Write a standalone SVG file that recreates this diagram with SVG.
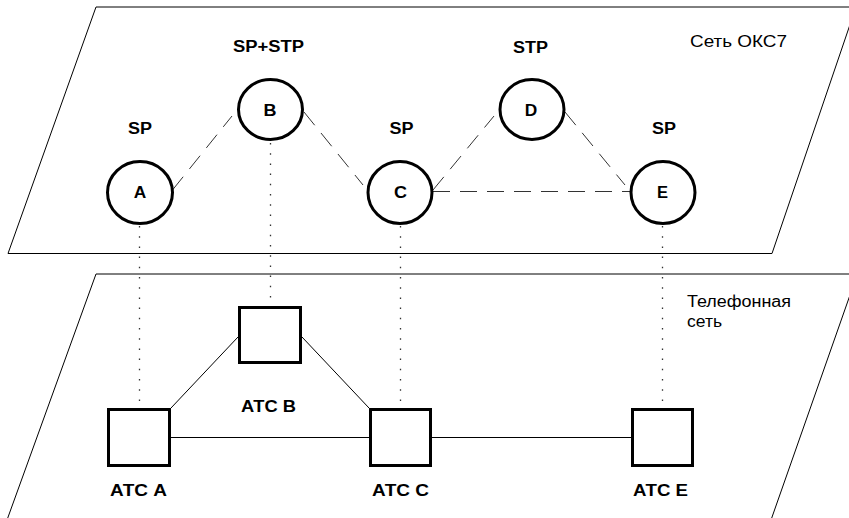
<svg xmlns="http://www.w3.org/2000/svg" width="849" height="518" viewBox="0 0 849 518">
<style>
.plane{fill:none;stroke:#000;stroke-width:1}
.node{fill:#fff;stroke:#000;stroke-width:3}
.sig{stroke:#333;stroke-width:1;stroke-dasharray:17 10;fill:none}
.dot{stroke:#333;stroke-width:1.3;stroke-dasharray:1.5 8.7;fill:none}
.trunk{stroke:#000;stroke-width:1;fill:none}
.b{font-family:"Liberation Sans",Arial,sans-serif;font-weight:bold;font-size:16px;fill:#000;text-anchor:middle}
.r{font-family:"Liberation Sans",Arial,sans-serif;font-size:16px;fill:#000}
</style>
<rect width="849" height="518" fill="#fff"/>
<g id="planes">
<polygon class="plane" points="96,7 856,7 772,253.5 8,253.5"/>
<polyline class="plane" points="7,520 96,274 857.4,274 771,520"/>
<text class="r" x="690" y="46.5" textLength="97" lengthAdjust="spacingAndGlyphs">Сеть ОКС7</text>
<text class="r" x="687" y="307" textLength="104" lengthAdjust="spacingAndGlyphs">Телефонная</text>
<text class="r" x="687" y="326.5" textLength="35" lengthAdjust="spacingAndGlyphs">сеть</text>
</g>
<g id="connectors">
<line class="sig" x1="172.5" y1="190" x2="232" y2="116"/>
<line class="sig" x1="304" y1="112" x2="363" y2="185"/>
<line class="sig" x1="433" y1="190" x2="494" y2="116"/>
<line class="sig" x1="433" y1="191.5" x2="630" y2="191.5"/>
<line class="sig" x1="565" y1="112" x2="625" y2="185"/>
<line class="dot" x1="139.5" y1="226" x2="139.5" y2="407"/>
<line class="dot" x1="270.5" y1="143" x2="270.5" y2="305"/>
<line class="dot" x1="400.5" y1="226" x2="400.5" y2="407"/>
<line class="dot" x1="662.5" y1="226" x2="662.5" y2="407"/>
<line class="trunk" x1="171" y1="408" x2="238" y2="337"/>
<line class="trunk" x1="302" y1="337" x2="369" y2="408"/>
<line class="trunk" x1="171" y1="437.5" x2="369" y2="437.5"/>
<line class="trunk" x1="432" y1="437.5" x2="631" y2="437.5"/>
</g>
<g id="spA">
<ellipse class="node" cx="140" cy="192.5" rx="32.5" ry="31"/>
<text class="b" x="140" y="197.5" textLength="12.5" lengthAdjust="spacingAndGlyphs">A</text>
<text class="b" x="140" y="133.5" textLength="24" lengthAdjust="spacingAndGlyphs">SP</text>
</g>
<g id="spB">
<ellipse class="node" cx="270.5" cy="109.5" rx="32" ry="30"/>
<text class="b" x="270" y="116" textLength="13" lengthAdjust="spacingAndGlyphs">B</text>
<text class="b" x="268.5" y="52" textLength="71" lengthAdjust="spacingAndGlyphs">SP+STP</text>
</g>
<g id="spC">
<ellipse class="node" cx="400" cy="192.5" rx="32" ry="31"/>
<text class="b" x="400.5" y="197.5" textLength="13" lengthAdjust="spacingAndGlyphs">C</text>
<text class="b" x="401.5" y="133.5" textLength="24" lengthAdjust="spacingAndGlyphs">SP</text>
</g>
<g id="stpD">
<ellipse class="node" cx="532" cy="109.5" rx="32" ry="30"/>
<text class="b" x="531" y="116" textLength="12.5" lengthAdjust="spacingAndGlyphs">D</text>
<text class="b" x="530.5" y="53" textLength="35" lengthAdjust="spacingAndGlyphs">STP</text>
</g>
<g id="spE">
<ellipse class="node" cx="663" cy="192.5" rx="32" ry="31"/>
<text class="b" x="662.5" y="197.5" textLength="11" lengthAdjust="spacingAndGlyphs">E</text>
<text class="b" x="664" y="133.5" textLength="24" lengthAdjust="spacingAndGlyphs">SP</text>
</g>
<g id="atcA">
<rect class="node" x="108.5" y="409.5" width="61" height="56"/>
<text class="b" x="138.5" y="496" textLength="57" lengthAdjust="spacingAndGlyphs">АТС A</text>
</g>
<g id="atcB">
<rect class="node" x="239.5" y="307.5" width="61" height="55"/>
<text class="b" x="268.5" y="412" textLength="55" lengthAdjust="spacingAndGlyphs">АТС B</text>
</g>
<g id="atcC">
<rect class="node" x="370.5" y="409.5" width="60" height="56"/>
<text class="b" x="400.5" y="496" textLength="57" lengthAdjust="spacingAndGlyphs">АТС C</text>
</g>
<g id="atcE">
<rect class="node" x="632.5" y="409.5" width="60" height="56"/>
<text class="b" x="660.5" y="496" textLength="55" lengthAdjust="spacingAndGlyphs">АТС E</text>
</g>
</svg>
